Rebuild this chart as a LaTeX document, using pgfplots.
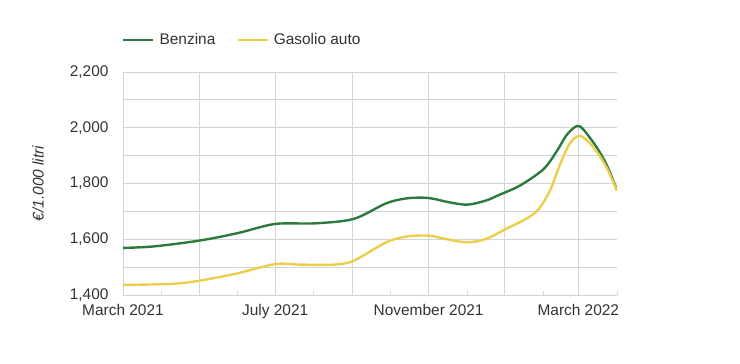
\documentclass[border=0pt]{standalone}
\usepackage{pgfplots}
\pgfplotsset{compat=1.18}
\usepackage{fontspec}
\setmainfont{Liberation Sans}
\definecolor{benz}{HTML}{2B7A3B}
\definecolor{gas}{HTML}{EDCE4C}
\definecolor{gridc}{HTML}{D4D4D4}
\definecolor{txt}{HTML}{333333}
\begin{document}
\begin{tikzpicture}
\useasboundingbox (-123bp,-69bp) rectangle (617bp,295bp);
\begin{axis}[
  at={(0,0)}, anchor=south west,
  scale only axis, width=494bp, height=223bp,
  xmin=0, xmax=396, ymin=1400, ymax=2200,
  axis line style={draw=none},
  xtick={0,61,122,184,245,306,365},
  xticklabels={March 2021,,July 2021,,November 2021,,March 2022},
  minor xtick={31,92,153,214,276,337,396},
  ytick={1400,1600,1800,2000,2200},
  minor ytick={1500,1700,1900,2100},
  xmajorgrids, ymajorgrids, yminorgrids,
  grid style={gridc, line width=0.8pt},
  minor grid style={gridc, line width=0.8pt},
  major tick length=0pt,
  minor x tick style={gridc, line width=0.8pt},
  minor y tick style={draw=none},
  minor tick length=4bp,
  xtick pos=bottom, ytick pos=left,
  tick align=inside,
  /pgf/number format/.cd, 1000 sep={,}, assume math mode=true, /pgfplots/.cd,
  tick label style={font=\fontsize{15.5}{17}\selectfont, text=txt},
  yticklabel style={xshift=-11bp},
  xticklabel style={yshift=-6bp},
  ylabel={\itshape €/1.000 litri},
  ylabel style={at={(axis description cs:-0.172,0.5)}, anchor=center, font=\fontsize{15.5}{17}\selectfont, text=txt},
  legend columns=2,
  legend style={draw=none, fill=none, at={(rel axis cs:0,1.1435)}, anchor=west, xshift=-4bp,
    font=\fontsize{15.5}{17}\selectfont, text=txt,
    /tikz/every even column/.append style={column sep=19bp}},
  legend image code/.code={\draw[#1] (0bp,0bp) -- (30bp,0bp); \path (33bp,0bp);},
]
\addplot[benz, line width=2.4pt, smooth, tension=0.5] coordinates {
(0,1569) (24,1574) (61,1595) (92,1622) (122,1655) (154,1657) (185,1673)
(211,1729) (228,1747) (245,1748) (261,1733) (276,1724) (291,1739) (302,1760)
(318,1792) (337,1851) (347.6,1915) (355.6,1974) (363.7,2006) (369,1994) (379.7,1930) (387.8,1866) (396,1776)
};
\addlegendentry{Benzina}
\addplot[gas, line width=2.4pt, smooth, tension=0.5] coordinates {
(0,1436) (39,1440) (61,1451) (92,1478) (122,1511) (142,1509) (169,1509) (185,1523)
(211,1589) (228,1610) (245,1613) (261,1599) (276,1589) (291,1601) (307,1637)
(323,1673) (332.8,1706) (342.2,1774) (350.3,1868) (358.3,1945) (365.5,1971) (371.7,1956) (379.7,1915) (387.8,1856) (396,1774)
};
\addlegendentry{Gasolio auto}
\end{axis}
\end{tikzpicture}
\end{document}
